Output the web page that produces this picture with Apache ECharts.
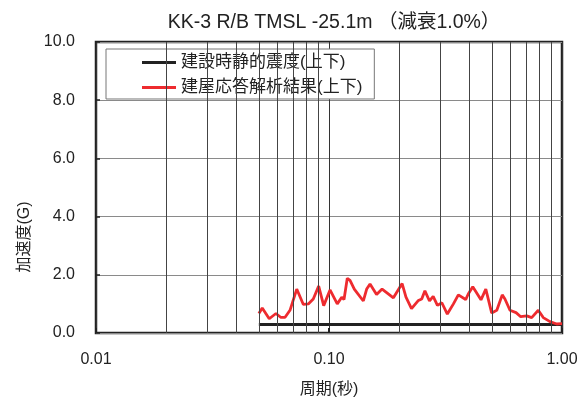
<!DOCTYPE html>
<html>
<head>
<meta charset="utf-8">
<script src="https://cdn.jsdelivr.net/npm/echarts@6/dist/echarts.min.js"></script>
<style>
  html, body { margin: 0; padding: 0; background: #fff; }
  #chart { width: 582px; height: 403px; }
</style>
</head>
<body>
<div id="chart"></div>
<script>
// Response spectrum: period (s) vs vertical acceleration (G)
var titleText = 'KK-3 R/B TMSL -25.1m （減衰1.0%）';
var xAxisName = '周期(秒)';
var yAxisName = '加速度(G)';
var seriesNames = ['建設時静的震度(上下)', '建屋応答解析結果(上下)'];

// static seismic coefficient (vertical), constant over the period range
var staticPeriods = [0.05, 1.00];
var staticValues = [0.29, 0.29];

// building response analysis result (vertical)
var responsePeriods = [
  0.050, 0.0517, 0.0554, 0.0592, 0.0620, 0.0648, 0.068, 0.0727, 0.0776, 0.0815,
  0.0856, 0.0903, 0.0949, 0.101, 0.1085, 0.1134, 0.116, 0.1198, 0.1231, 0.1284,
  0.1404, 0.1451, 0.150, 0.160, 0.169, 0.189, 0.206, 0.214, 0.226, 0.242,
  0.250, 0.258, 0.270, 0.280, 0.292, 0.305, 0.322, 0.342, 0.359, 0.386,
  0.396, 0.414, 0.449, 0.471, 0.499, 0.525, 0.554, 0.569, 0.598, 0.635,
  0.665, 0.706, 0.741, 0.791, 0.831, 0.888, 0.949, 1.000
];
var responseValues = [
  0.67, 0.86, 0.49, 0.67, 0.54, 0.54, 0.78, 1.51, 0.98, 1.00,
  1.17, 1.61, 0.94, 1.48, 1.00, 1.23, 1.15, 1.88, 1.81, 1.51,
  1.10, 1.51, 1.68, 1.32, 1.51, 1.21, 1.70, 1.23, 0.84, 1.12,
  1.17, 1.45, 1.10, 1.26, 0.95, 1.04, 0.65, 1.00, 1.31, 1.15,
  1.34, 1.59, 1.14, 1.51, 0.69, 0.78, 1.31, 1.17, 0.78, 0.70,
  0.56, 0.59, 0.53, 0.78, 0.53, 0.39, 0.31, 0.32
];

// log-axis minor gridlines (2..9 within each decade)
var minorPeriods = [0.02, 0.03, 0.04, 0.05, 0.06, 0.07, 0.08, 0.09,
                    0.2, 0.3, 0.4, 0.5, 0.6, 0.7, 0.8, 0.9];
var yTicks = [0, 2, 4, 6, 8, 10];

function pairs(xs, ys) {
  return xs.map(function (x, i) { return [x, ys[i]]; });
}

var FONT = '"Liberation Sans", "Noto Sans CJK JP", sans-serif';
var chart = echarts.init(document.getElementById('chart'), null, { renderer: 'canvas' });

chart.setOption({
  animation: false,
  backgroundColor: '#ffffff',
  textStyle: { fontFamily: FONT, color: '#222' },
  title: {
    text: titleText,
    left: 329, top: 8, textAlign: 'center',
    textStyle: { fontFamily: FONT, fontSize: 19.5, fontWeight: 'normal', color: '#222' }
  },
  grid: {
    left: 96, right: 20, top: 42, bottom: 63,
    show: true, borderColor: '#222', borderWidth: 2.5, backgroundColor: '#fff'
  },
  legend: {
    data: seriesNames,
    orient: 'vertical',
    left: 106, top: 49,
    padding: [5, 12, 3, 36],
    itemGap: 8,
    itemWidth: 34,
    itemHeight: 3,
    icon: 'rect',
    backgroundColor: '#fff',
    borderColor: '#777',
    borderWidth: 1,
    borderRadius: 0,
    textStyle: { fontFamily: FONT, fontSize: 17, color: '#222' }
  },
  xAxis: {
    type: 'log', logBase: 10, min: 0.01, max: 1,
    name: xAxisName, nameLocation: 'middle', nameGap: 49,
    nameTextStyle: { fontFamily: FONT, fontSize: 16, color: '#222' },
    axisLine: { show: false },
    axisTick: { show: true, inside: true, length: 5, lineStyle: { color: '#222', width: 2 } },
    axisLabel: {
      margin: 19, fontFamily: FONT, fontSize: 16, color: '#222',
      formatter: function (v) { return Number(v).toFixed(2); }
    },
    splitLine: { show: true, lineStyle: { color: '#333', width: 1 } },
    minorTick: { show: false }
  },
  yAxis: {
    type: 'value', min: yTicks[0], max: yTicks[yTicks.length - 1], interval: 2,
    axisLine: { show: false },
    axisTick: { show: true, inside: true, length: 4, lineStyle: { color: '#222', width: 1.5 } },
    axisLabel: {
      margin: 21, fontFamily: FONT, fontSize: 16, color: '#222',
      formatter: function (v) { return Number(v).toFixed(1); }
    },
    splitLine: { show: true, lineStyle: { color: '#8a8a8a', width: 1 } }
  },
  graphic: [{
    type: 'text',
    x: 25, y: 237,
    rotation: Math.PI / 2,
    style: {
      text: yAxisName,
      font: '16px ' + FONT,
      fill: '#222',
      textAlign: 'center',
      textVerticalAlign: 'middle'
    }
  }],
  series: [
    {
      name: 'grid-minor',
      type: 'line',
      data: [],
      z: 1,
      silent: true,
      markLine: {
        silent: true,
        symbol: 'none',
        label: { show: false },
        lineStyle: { color: '#444', width: 1, type: 'solid' },
        data: minorPeriods.map(function (p) { return { xAxis: p }; })
      }
    },
    {
      name: seriesNames[0],
      type: 'line',
      z: 3,
      showSymbol: false,
      data: pairs(staticPeriods, staticValues),
      itemStyle: { color: '#222' },
      lineStyle: { color: '#222', width: 3 }
    },
    {
      name: seriesNames[1],
      type: 'line',
      z: 4,
      showSymbol: false,
      data: pairs(responsePeriods, responseValues),
      itemStyle: { color: '#ee2b2f' },
      lineStyle: { color: '#ee2b2f', width: 2.8 }
    }
  ]
});
</script>
</body>
</html>
